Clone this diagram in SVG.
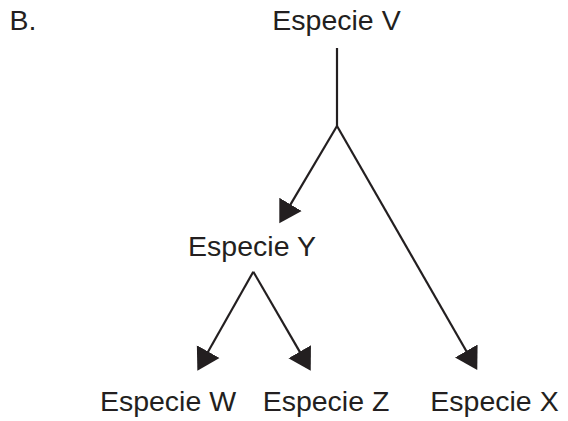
<svg xmlns="http://www.w3.org/2000/svg" width="568" height="421" viewBox="0 0 568 421">
  <style>
    .lbl { font-family: "Liberation Sans", Arial, sans-serif; font-size: 28.5px; fill: #231f20; text-anchor: middle; }
    .edge { stroke: #231f20; stroke-width: 2.2; fill: none; }
  </style>
  <defs>
    <marker id="arrow" markerUnits="userSpaceOnUse" markerWidth="24" markerHeight="28" viewBox="0 -14 24 28" refX="2" refY="0" orient="auto">
      <path d="M0,-13 L22,0 L0,13 Z" fill="#231f20"/>
    </marker>
  </defs>
  <text class="lbl" x="9.5" y="30" style="text-anchor:start">B.</text>
  <g id="connectors">
    <path class="edge" d="M337,48 L337,126"/>
    <path class="edge" d="M337,126 L289.5,206.1" marker-end="url(#arrow)"/>
    <path class="edge" d="M337,126 L467.3,352.7" marker-end="url(#arrow)"/>
    <path class="edge" d="M253.3,271.7 L207.2,353.3" marker-end="url(#arrow)"/>
    <path class="edge" d="M253.3,271.7 L300.7,353.4" marker-end="url(#arrow)"/>
  </g>
  <g id="especie-v"><text class="lbl" x="336.5" y="30">Especie V</text></g>
  <g id="especie-y"><text class="lbl" x="252" y="256">Especie Y</text></g>
  <g id="especie-w"><text class="lbl" x="168" y="411">Especie W</text></g>
  <g id="especie-z"><text class="lbl" x="326" y="411">Especie Z</text></g>
  <g id="especie-x"><text class="lbl" x="494.5" y="411">Especie X</text></g>
</svg>
